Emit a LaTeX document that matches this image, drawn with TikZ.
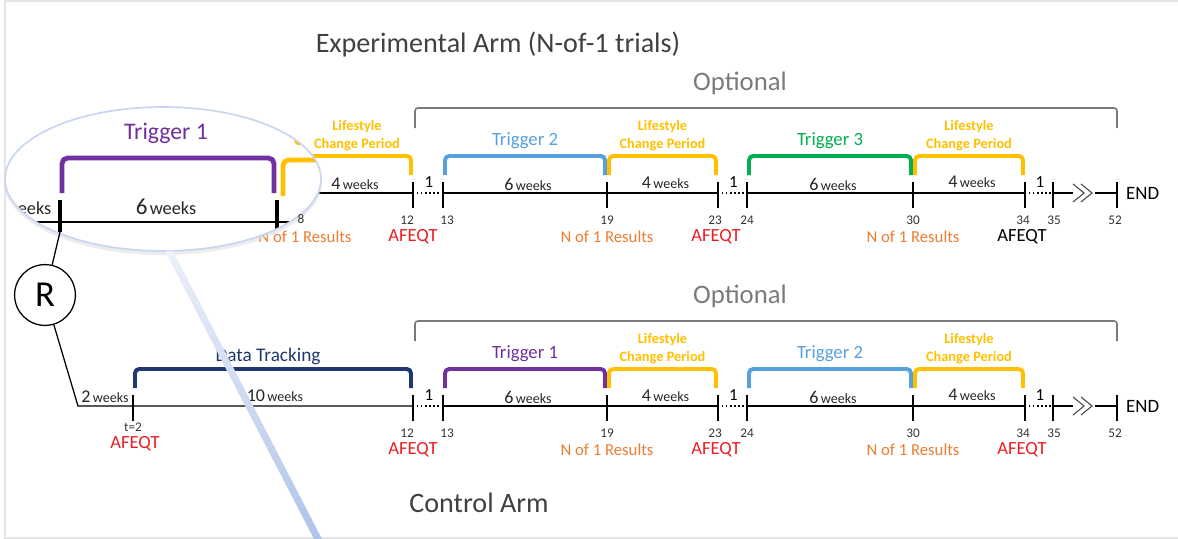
\documentclass[tikz,border=0pt]{standalone}
\usepackage{fontspec}
\setmainfont{Carlito}
\usepackage{tikz}
\usetikzlibrary{calc,positioning}
\definecolor{trigone}{RGB}{112,48,160}
\definecolor{trigtwo}{RGB}{86,160,224}
\definecolor{trigthree}{RGB}{0,176,80}
\definecolor{lifecol}{RGB}{255,192,0}
\definecolor{trackcol}{RGB}{31,56,112}
\definecolor{rescol}{RGB}{237,125,49}
\definecolor{afcol}{RGB}{235,30,35}
\definecolor{optcol}{RGB}{122,122,122}
\definecolor{titlecol}{RGB}{64,64,64}
\definecolor{lenscol}{RGB}{176,196,232}
\newcommand{\wk}[1]{{\fontsize{12.8}{14}\selectfont #1}\,{\fontsize{10}{12}\selectfont weeks}}
\newcommand{\bigwk}[1]{{\fontsize{16.4}{18}\selectfont #1}\,{\fontsize{13}{15}\selectfont weeks}}
\newcommand{\trialphase}[3]{\draw[bracket,color=#3] ($(#1)+(2,-18)$) -- ++(0,-19) -| ($(#2)+(-2,-18)$);}

\begin{document}
\begin{tikzpicture}[x=0.025cm,y=-0.025cm,
	axis/.style={line width=0.9pt},
	tick/.style={line width=1.8pt},
	bracket/.style={line width=2.8pt,rounded corners=3pt},
	optbr/.style={optcol,line width=1.1pt,rounded corners=2pt},
	title/.style={titlecol,font=\fontsize{20}{24}\selectfont},
	opt/.style={optcol,font=\fontsize{19}{22}\selectfont},
	trig/.style={font=\fontsize{13.3}{16}\selectfont},
	life/.style={lifecol,font=\bfseries\fontsize{10.2}{12.8}\selectfont,align=center},
	res/.style={rescol,font=\fontsize{11.9}{14}\selectfont},
	afeqt/.style={afcol,font=\fontsize{13.2}{15}\selectfont},
	num/.style={black!80,font=\fontsize{9.4}{10}\selectfont},
	gap/.style={font=\fontsize{12}{14}\selectfont},
	wks/.style={black!85,inner sep=1pt}]
	\useasboundingbox (0,0) rectangle (1178,539);
	\draw[black!10,line width=0.8pt] (1178,1) -- (5,1) -- (5,538) -- (1178,538);
	
	\node[title] (exptitle) at (498,44) {Experimental Arm (N-of-1 trials)};
	\node[title] (ctrltitle) at (479,503) {Control Arm};
	
	% both arms share weeks 12 to 52
	\foreach \arm/\dy/\tna/\tca/\tnb/\tcb/\lc in {e/0/Trigger 2/trigtwo/Trigger 3/trigthree/black,c/213/Trigger 1/trigone/Trigger 2/trigtwo/afcol}{
	\begin{scope}[shift={(0,\dy)}]
		\foreach \w/\x in {12/413,13/443,19/607,23/718,24/747,30/913,34/1025,35/1053,52/1117}
		\coordinate (\arm\w) at (\x,193);
		\draw[axis] (\arm13) -- (\arm23) (\arm24) -- (\arm34) (\arm35) -- (1073,193) (1095,193) -- (\arm52);
		\foreach \a/\b in {12/13,23/24,34/35}{
			\draw[axis,dotted] (\arm\a) -- (\arm\b);
			\node[gap] (one\arm\a) at ($(\arm\a)!.5!(\arm\b)+(1,-11)$) {1};
		}
		\draw[black!70,line width=0.8pt] (1073,184) -- (1084,193) -- (1073,202) (1081,184) -- (1092,193) -- (1081,202);
		\foreach \w in {12,13,19,23,24,30,34,35,52}
		\draw[tick] (\arm\w) ++(0,-11) -- ++(0,26);
		\foreach \w/\dx in {12/-6,13/4,19/0,23/-3,24/0,30/0,34/-2,35/1,52/-2}
		\node[num] (num\arm\w) at ($(\arm\w)+(\dx,27)$) {\w};
		\node[right=3pt of \arm52,font=\fontsize{13.4}{15}\selectfont] (end\arm) {END};
		
		\node[wks] (wa\arm) at ($(\arm13)!.5!(\arm19)+(3,-9)$) {\wk{6}};
		\node[wks] (wb\arm) at ($(\arm19)!.5!(\arm23)+(3,-10)$) {\wk{4}};
		\node[wks] (wc\arm) at ($(\arm24)!.5!(\arm30)+(3,-9)$) {\wk{6}};
		\node[wks] (wd\arm) at ($(\arm30)!.5!(\arm34)+(3,-11)$) {\wk{4}};
		
		\trialphase{\arm13}{\arm19}{\tca}
		\trialphase{\arm19}{\arm23}{lifecol}
		\trialphase{\arm24}{\arm30}{\tcb}
		\trialphase{\arm30}{\arm34}{lifecol}
		\node[trig,color=\tca] (ta\arm) at ($(\arm13)!.5!(\arm19)+(0,-52)$) {\tna};
		\node[life] (la\arm) at ($(\arm19)!.5!(\arm23)+(0,-57)$) {Lifestyle\\Change Period};
		\node[trig,color=\tcb] (tb\arm) at ($(\arm24)!.5!(\arm30)+(0,-52)$) {\tnb};
		\node[life] (lb\arm) at ($(\arm30)!.5!(\arm34)+(0,-57)$) {Lifestyle\\Change Period};
		
		\node[res] (ra\arm) at ($(\arm19)+(0,44)$) {N of 1 Results};
		\node[res] (rb\arm) at ($(\arm30)+(0,44)$) {N of 1 Results};
		\node[afeqt] (qa\arm) at ($(\arm12)+(0,44)$) {AFEQT};
		\node[afeqt] (qb\arm) at ($(\arm23)+(-2,44)$) {AFEQT};
		\node[afeqt,color=\lc] (qc\arm) at ($(\arm34)+(-3,44)$) {AFEQT};
		
		\draw[optbr] ($(\arm12)+(2,-65)$) -- ++(0,-20) -| ($(\arm52)+(0,-65)$);
		\node[opt] (opt\arm) at (740,83) {Optional};
	\end{scope}}
	
	% experimental arm, start
	\coordinate (e8) at (301,193);
	\draw[axis] (e8) -- (e12);
	\trialphase{e8}{e12}{lifecol}
	\node[life] (lae) at (357,136) {Lifestyle\\Change Period};
	\node[wks] (w8e) at (355,184) {\wk{4}};
	\node[res] (r8e) at (305,237) {N of 1 Results};
	
	% control arm, start
	\node[draw,circle,line width=0.9pt,minimum size=1.52cm,inner sep=0pt,font=\fontsize{26}{28}\selectfont] (rand) at (45,295) {R};
	\coordinate (c0) at (78,406);
	\coordinate (c2) at (133,406);
	\draw[axis] (rand) -- (c0) -- (c12);
	\draw[tick] (c2) ++(0,-11) -- ++(0,26);
	\node[num] (numc2) at ($(c2)+(0,21)$) {t=2};
	\node[afeqt] (qc0) at ($(c2)+(2,38)$) {AFEQT};
	\node[wks] (w2c) at (105,397) {\wk{2}};
	\trialphase{c2}{c12}{trackcol}
	\node[trig,trackcol,font=\fontsize{13.7}{16}\selectfont] (track) at (268,356) {Data Tracking};
	\node[wks] (w10c) at (275,396) {\wk{10}};
	
	% magnifier
	\coordinate (lens) at (163,179);
	\fill[black!15,opacity=.5] ($(lens)+(0,3)$) ellipse [x radius=159,y radius=73];
	\fill[white] (lens) ellipse [x radius=158,y radius=72];
	\begin{scope}
		\clip (lens) ellipse [x radius=158,y radius=72];
		\draw[line width=1.2pt] (0,222) -- (330,222);
		\draw[line width=2.2pt] (60,200) -- (60,232) (277,200) -- (277,232);
		\draw[trigone,line width=3.4pt,rounded corners=4pt] (62,193) -- (62,158) -- (274,158) -- (274,193);
		\draw[lifecol,line width=3.4pt,rounded corners=4pt] (283,196) -- (283,160) -- (340,160);
		\node[trigone,font=\fontsize{16.9}{19}\selectfont] (mtrig) at (166,133) {Trigger 1};
		\node[wks] (mwk) at (166,207) {\bigwk{6}};
		\node[wks,anchor=east,font=\fontsize{13}{15}\selectfont] (mwk2) at (53,208) {eeks};
		\node[lifecol,anchor=west,font=\bfseries\fontsize{12.5}{14}\selectfont] (mlife) at (289,140) {C};
	\end{scope}
	\draw[lenscol!70,line width=1.2pt] (lens) ellipse [x radius=158,y radius=72];
	\coordinate (magl) at (60,232);
	\draw[axis] (rand) -- (magl);
	\node[num] (nume8) at (301,219) {8};
	
	% handle
	\shade[top color=lenscol!25,bottom color=lenscol] (165,251) -- (173,251) -- (322,539) -- (314,539) -- cycle;
\end{tikzpicture}
\end{document}
